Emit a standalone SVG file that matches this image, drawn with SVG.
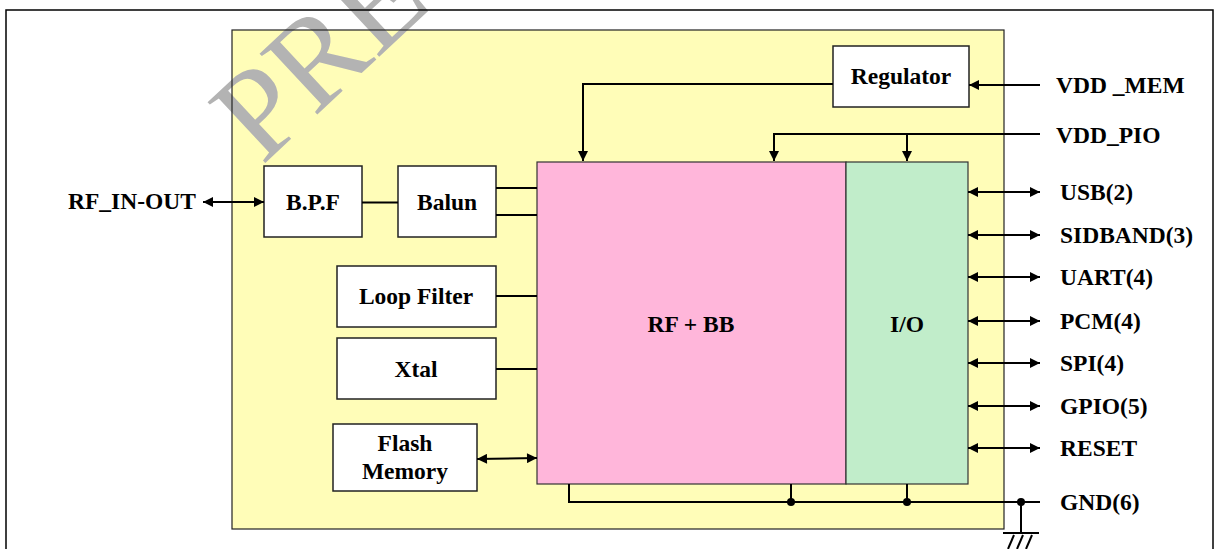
<svg xmlns="http://www.w3.org/2000/svg" width="1215" height="549" viewBox="0 0 1215 549">
<style>
.box{fill:#ffffff;stroke:#222;stroke-width:1.5}
.t{font-family:"Liberation Serif","Times New Roman",serif;font-weight:bold;font-size:23.5px;fill:#000}
.c{text-anchor:middle}
.w{fill:none;stroke:#000;stroke-width:2}
</style>
<defs>
<marker id="ah" viewBox="0 0 10 10" refX="10" refY="5" markerWidth="12" markerHeight="10" markerUnits="userSpaceOnUse" orient="auto-start-reverse">
<path d="M0,0 L10,5 L0,10 z" fill="#000"/>
</marker>
</defs>
<rect x="6" y="10" width="1207" height="560" fill="#fff"/>
<g id="module">
<rect x="232" y="30" width="772" height="499" fill="#fffdb8"/>
</g>
<text x="262" y="166" transform="rotate(-43 262 166)" font-family="'Liberation Serif','Times New Roman',serif" font-size="128" fill="#b3b3b3">PRE</text>
<rect x="6" y="10" width="1207" height="560" fill="none" stroke="#000" stroke-width="1.5"/>
<rect x="232" y="30" width="772" height="499" fill="none" stroke="#222" stroke-width="1.2"/>
<g id="rfbb">
<rect x="537" y="162" width="309" height="322" fill="#ffb6da" stroke="#333" stroke-width="1.2"/>
<text class="t c" x="691" y="332">RF + BB</text>
</g>
<g id="io">
<rect x="846" y="162" width="122" height="322" fill="#c1edca" stroke="#333" stroke-width="1.2"/>
<text class="t c" x="907" y="332">I/O</text>
</g>
<g id="regulator">
<rect class="box" x="833" y="46" width="136" height="61"/>
<text class="t c" x="901" y="84">Regulator</text>
</g>
<g id="bpf">
<rect class="box" x="264" y="166" width="98" height="71"/>
<text class="t c" x="313" y="210">B.P.F</text>
</g>
<g id="balun">
<rect class="box" x="398" y="166" width="98" height="71"/>
<text class="t c" x="447" y="210">Balun</text>
</g>
<g id="loopfilter">
<rect class="box" x="337" y="266" width="159" height="61"/>
<text class="t c" x="416" y="304">Loop Filter</text>
</g>
<g id="xtal">
<rect class="box" x="337" y="338" width="159" height="61"/>
<text class="t c" x="416" y="377">Xtal</text>
</g>
<g id="flash">
<rect class="box" x="333" y="424" width="144" height="67"/>
<text class="t c" x="405" y="451">Flash</text>
<text class="t c" x="405" y="479">Memory</text>
</g>
<g id="labels">
<text class="t" x="68" y="209">RF_IN-OUT</text>
<text class="t" x="1056" y="93">VDD _MEM</text>
<text class="t" x="1056" y="143">VDD_PIO</text>
<text class="t" x="1060" y="200">USB(2)</text>
<text class="t" x="1060" y="243">SIDBAND(3)</text>
<text class="t" x="1060" y="285">UART(4)</text>
<text class="t" x="1060" y="329">PCM(4)</text>
<text class="t" x="1060" y="371">SPI(4)</text>
<text class="t" x="1060" y="414">GPIO(5)</text>
<text class="t" x="1060" y="456">RESET</text>
<text class="t" x="1060" y="510">GND(6)</text>
</g>
<g id="connectors">
<line class="w" x1="203" y1="202" x2="264" y2="202" marker-start="url(#ah)" marker-end="url(#ah)"/>
<line class="w" x1="362" y1="202.5" x2="398" y2="202.5"/>
<line class="w" x1="496" y1="188" x2="537" y2="188"/>
<line class="w" x1="496" y1="215" x2="537" y2="215"/>
<line class="w" x1="496" y1="296" x2="537" y2="296"/>
<line class="w" x1="496" y1="369" x2="537" y2="369"/>
<line class="w" x1="477" y1="459" x2="537" y2="458" marker-start="url(#ah)" marker-end="url(#ah)"/>
<line class="w" x1="1040" y1="85" x2="969" y2="85" marker-end="url(#ah)"/>
<polyline class="w" points="833,84 583,84 583,161" marker-end="url(#ah)"/>
<line class="w" x1="1040" y1="134" x2="774" y2="134"/>
<line class="w" x1="774" y1="133" x2="774" y2="161" marker-end="url(#ah)"/>
<line class="w" x1="907" y1="134" x2="907" y2="161" marker-end="url(#ah)"/>
<line class="w" x1="968" y1="192" x2="1040" y2="192" marker-start="url(#ah)" marker-end="url(#ah)"/>
<line class="w" x1="968" y1="235" x2="1040" y2="235" marker-start="url(#ah)" marker-end="url(#ah)"/>
<line class="w" x1="968" y1="277" x2="1040" y2="277" marker-start="url(#ah)" marker-end="url(#ah)"/>
<line class="w" x1="968" y1="321" x2="1040" y2="321" marker-start="url(#ah)" marker-end="url(#ah)"/>
<line class="w" x1="968" y1="363" x2="1040" y2="363" marker-start="url(#ah)" marker-end="url(#ah)"/>
<line class="w" x1="968" y1="406" x2="1040" y2="406" marker-start="url(#ah)" marker-end="url(#ah)"/>
<line class="w" x1="968" y1="448" x2="1040" y2="448" marker-start="url(#ah)" marker-end="url(#ah)"/>
<polyline class="w" points="569,484 569,502 1040,502"/>
<line class="w" x1="791" y1="484" x2="791" y2="502"/>
<line class="w" x1="907" y1="484" x2="907" y2="502"/>
<circle cx="791" cy="502" r="4" fill="#000"/>
<circle cx="907" cy="502" r="4" fill="#000"/>
<circle cx="1021" cy="502" r="4" fill="#000"/>
<line class="w" x1="1021" y1="502" x2="1021" y2="533"/>
<line class="w" x1="1003" y1="533" x2="1039" y2="533"/>
<line class="w" x1="1008" y1="549" x2="1014" y2="535"/>
<line class="w" x1="1017" y1="549" x2="1023" y2="535"/>
<line class="w" x1="1026" y1="549" x2="1032" y2="535"/>
</g>
</svg>
